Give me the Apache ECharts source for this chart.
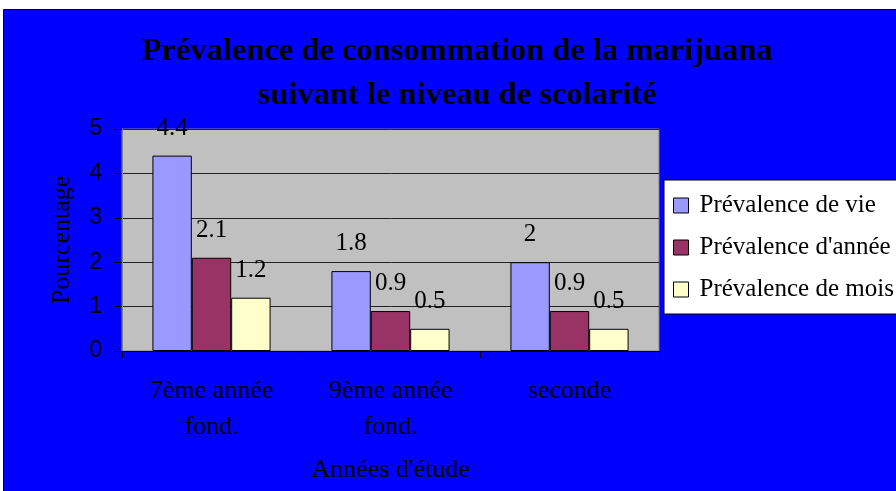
<!DOCTYPE html>
<html>
<head>
<meta charset="utf-8">
<script src="https://cdn.jsdelivr.net/npm/echarts@6/dist/echarts.min.js"></script>
<style>
html,body{margin:0;padding:0;background:#fff;}
#c{width:896px;height:491px;}
</style>
</head>
<body>
<div id="c"></div>
<script>
const titleText = 'Prévalence de consommation de la marijuana\nsuivant le niveau de scolarité';
const categories = ['7ème année\nfond.', '9ème année\nfond.', 'seconde'];
const seriesNames = ['Prévalence de vie', "Prévalence d'année", 'Prévalence de mois'];
const vie = [4.4, 1.8, 2];
const annee = [2.1, 0.9, 0.9];
const mois = [1.2, 0.5, 0.5];
const yTicks = [0, 1, 2, 3, 4, 5];
const colors = ['#9999FF', '#993366', '#FFFFCC'];

const serif = '"Liberation Serif", "DejaVu Serif", serif';
const sans = '"Liberation Sans", Arial, sans-serif';

const chart = echarts.init(document.getElementById('c'), null, {renderer: 'canvas'});

function mk(name, data, color) {
  return {
    name: name,
    type: 'bar',
    data: data,
    barGap: '0%',
    barCategoryGap: '34%',
    itemStyle: {color: color, borderColor: '#000', borderWidth: 1},
    label: {
      show: true, position: 'top', distance: 15,
      color: '#000', fontFamily: serif, fontSize: 25
    }
  };
}

chart.setOption({
  animation: false,
  backgroundColor: '#ffffff',
  color: colors,
  graphic: [{
    type: 'rect', z: -10, silent: true,
    shape: {x: 3.5, y: 9.5, width: 900, height: 500},
    style: {fill: '#0000FF', stroke: '#000', lineWidth: 1}
  }],
  title: {
    text: titleText,
    left: 457, top: 30, textAlign: 'center', padding: 0,
    textStyle: {fontFamily: serif, fontWeight: 'bold', fontSize: 32.5, lineHeight: 44, color: '#000'}
  },
  legend: {
    orient: 'vertical',
    left: 664, top: 180,
    backgroundColor: '#fff', borderColor: '#000', borderWidth: 1,
    padding: [13, 12, 12, 9],
    itemWidth: 15, itemHeight: 15, itemGap: 17,
    icon: 'rect',
    itemStyle: {borderColor: '#000', borderWidth: 1},
    textStyle: {fontFamily: serif, fontSize: 25, color: '#000', padding: [0, 0, 0, 6]},
    data: seriesNames
  },
  grid: {
    left: 122, right: 237, top: 129, bottom: 140,
    show: true, backgroundColor: '#C0C0C0', borderColor: '#808080', borderWidth: 1
  },
  xAxis: {
    type: 'category',
    data: categories,
    name: "Années d'étude",
    nameLocation: 'middle', nameGap: 106,
    nameTextStyle: {fontFamily: serif, fontSize: 26, color: '#000'},
    axisLine: {lineStyle: {color: '#000', width: 1}},
    axisTick: {show: true, length: 7, lineStyle: {color: '#000'}},
    axisLabel: {fontFamily: serif, fontSize: 26, lineHeight: 36, color: '#000', margin: 22}
  },
  yAxis: {
    type: 'value',
    min: 0, max: 5, interval: 1,
    name: 'Pourcentage',
    nameLocation: 'middle', nameGap: 47,
    nameTextStyle: {fontFamily: serif, fontSize: 26, color: '#000'},
    axisLine: {show: true, lineStyle: {color: '#808080'}},
    axisTick: {show: true, length: 8, lineStyle: {color: '#000'}},
    axisLabel: {fontFamily: sans, fontSize: 23, color: '#000', margin: 20,
      formatter: v => yTicks.includes(v) ? String(v) : ''},
    splitLine: {show: true, lineStyle: {color: '#222', width: 1}}
  },
  series: [
    mk(seriesNames[0], vie, colors[0]),
    mk(seriesNames[1], annee, colors[1]),
    mk(seriesNames[2], mois, colors[2])
  ]
});
</script>
</body>
</html>
